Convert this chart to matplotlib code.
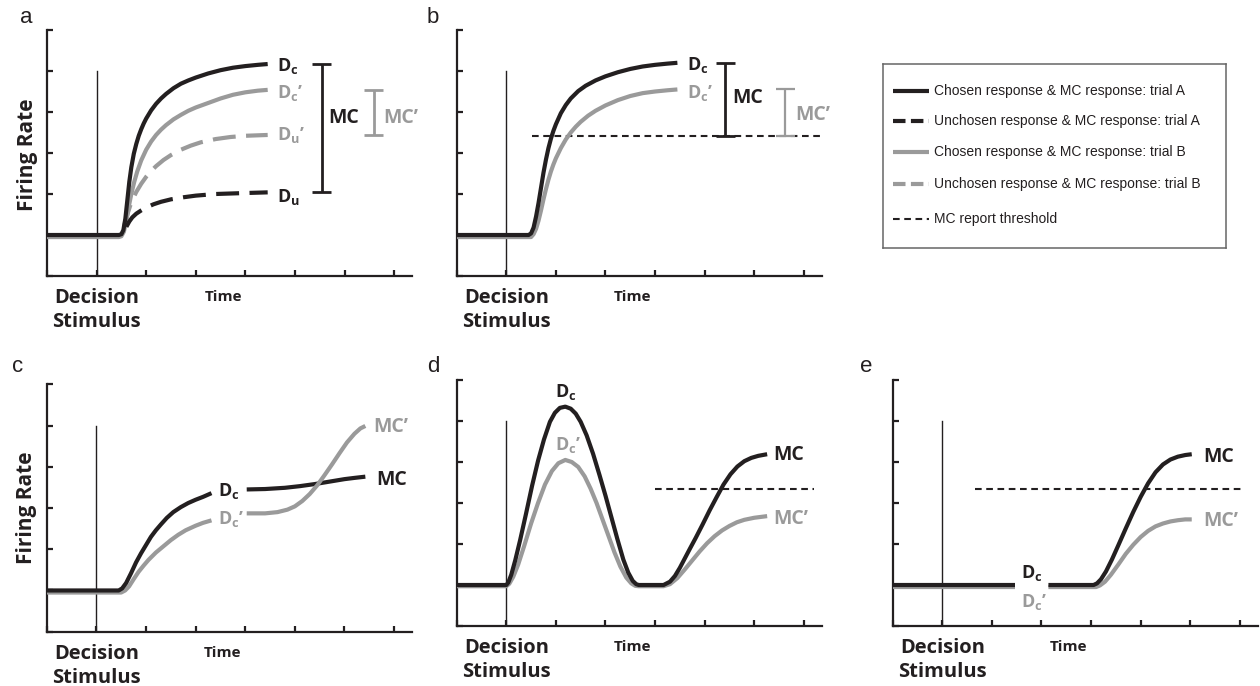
import matplotlib
matplotlib.use("Agg")
import matplotlib.pyplot as plt
from matplotlib import font_manager as fm

W, H = 1260, 686
BLACK = "#231f20"
GRAY = "#9a9a9a"

# ---------------- data ----------------
# Panel a
a_Dc_x = [0, 1.45, 1.5, 1.54, 1.58, 1.62, 1.66, 1.7, 1.75, 1.8, 1.85, 1.9, 1.95, 2.0, 2.1, 2.2,
          2.3, 2.4, 2.55, 2.7, 2.85, 3.0, 3.25, 3.5, 3.75, 4.0, 4.25, 4.45]
a_Dc_y = [1, 1.0, 1.02, 1.12, 1.4, 1.85, 2.3, 2.65, 2.98, 3.22, 3.42, 3.58, 3.72, 3.84, 4.04, 4.2,
          4.33, 4.44, 4.58, 4.69, 4.77, 4.84, 4.94, 5.02, 5.08, 5.12, 5.15, 5.17]
a_Dcp_x = [0, 1.45, 1.5, 1.55, 1.6, 1.65, 1.7, 1.76, 1.82, 1.9, 2.0, 2.1, 2.2, 2.3, 2.4, 2.55,
           2.7, 2.85, 3.0, 3.25, 3.5, 3.75, 4.0, 4.25, 4.45]
a_Dcp_y = [0.95, 0.95, 0.97, 1.08, 1.35, 1.7, 2.0, 2.3, 2.55, 2.82, 3.08, 3.28, 3.44, 3.57, 3.68,
           3.82, 3.93, 4.03, 4.11, 4.22, 4.33, 4.42, 4.48, 4.52, 4.54]
a_Dup_x = [1.55, 1.62, 1.7, 1.8, 1.9, 2.0, 2.1, 2.2, 2.35, 2.5, 2.7, 2.9, 3.1, 3.4, 3.7, 4.0, 4.45]
a_Dup_y = [1.2, 1.5, 1.8, 2.05, 2.25, 2.42, 2.56, 2.68, 2.83, 2.95, 3.08, 3.18, 3.26, 3.34, 3.39,
           3.42, 3.44]
a_Du_x = [1.6, 1.66, 1.72, 1.8, 1.9, 2.0, 2.15, 2.3, 2.5, 2.75, 3.0, 3.4, 3.9, 4.45]
a_Du_y = [1.2, 1.33, 1.43, 1.52, 1.6, 1.67, 1.75, 1.81, 1.87, 1.92, 1.96, 2.0, 2.02, 2.04]
a_MC = [2.05, 5.17]
a_MCp = [3.44, 4.54]

# Panel b
b_Dc_x = [0, 1.45, 1.5, 1.55, 1.6, 1.65, 1.7, 1.75, 1.8, 1.85, 1.9, 1.95, 2.0, 2.1, 2.2, 2.3,
          2.45, 2.6, 2.8, 3.0, 3.25, 3.5, 3.75, 4.0, 4.25, 4.45]
b_Dc_y = [1, 1.0, 1.04, 1.18, 1.45, 1.78, 2.15, 2.52, 2.84, 3.12, 3.35, 3.54, 3.7, 3.97, 4.17, 4.33,
          4.51, 4.64, 4.77, 4.87, 4.97, 5.05, 5.11, 5.15, 5.18, 5.2]
b_Dcp_x = [0, 1.5, 1.55, 1.6, 1.65, 1.7, 1.75, 1.8, 1.85, 1.9, 1.95, 2.0, 2.1, 2.2, 2.3, 2.4,
           2.5, 2.65, 2.8, 3.0, 3.25, 3.5, 3.75, 4.0, 4.25, 4.45]
b_Dcp_y = [0.95, 0.95, 1.02, 1.15, 1.35, 1.6, 1.87, 2.12, 2.35, 2.55, 2.72, 2.87, 3.12, 3.33, 3.5,
           3.64, 3.76, 3.91, 4.03, 4.16, 4.29, 4.39, 4.46, 4.5, 4.53, 4.55]
b_thresh = 3.42
b_thresh_x = [1.52, 7.34]
b_MC = [3.42, 5.2]
b_MCp = [3.42, 4.55]

# Panel c
c_Dc_x = [0, 1.45, 1.52, 1.6, 1.7, 1.8, 1.9, 2.0, 2.1, 2.2, 2.3, 2.42, 2.55, 2.7, 2.85, 3.0,
          3.15, 3.32]
c_Dc_y = [1, 1.0, 1.05, 1.18, 1.42, 1.68, 1.9, 2.1, 2.3, 2.46, 2.6, 2.76, 2.9, 3.02, 3.12, 3.2,
          3.27, 3.36]
c_Dcp_x = [0, 1.5, 1.58, 1.66, 1.75, 1.85, 1.95, 2.05, 2.2, 2.35, 2.5, 2.65, 2.8, 3.0, 3.15, 3.32]
c_Dcp_y = [0.95, 0.95, 1.0, 1.1, 1.27, 1.45, 1.6, 1.74, 1.92, 2.07, 2.22, 2.35, 2.46, 2.57, 2.64,
           2.7]
c_MC_x = [4.03, 4.4, 4.8, 5.1, 5.4, 5.7, 6.0, 6.2, 6.42]
c_MC_y = [3.45, 3.46, 3.49, 3.53, 3.58, 3.64, 3.7, 3.73, 3.76]
c_MCp_x = [4.03, 4.4, 4.65, 4.85, 5.0, 5.15, 5.3, 5.45, 5.6, 5.75, 5.9, 6.05, 6.2, 6.32, 6.42]
c_MCp_y = [2.87, 2.87, 2.9, 2.96, 3.04, 3.17, 3.34, 3.55, 3.8, 4.06, 4.33, 4.59, 4.8, 4.93, 4.99]

# Panel d
d_Dc_x = [0, 1.0, 1.04, 1.1, 1.18, 1.28, 1.4, 1.52, 1.64, 1.76, 1.88, 1.98, 2.08, 2.19, 2.3,
          2.4, 2.5, 2.62, 2.75, 2.88, 3.0, 3.12, 3.24, 3.36, 3.46, 3.55, 3.62, 3.67, 4.17, 4.3,
          4.4, 4.5, 4.6, 4.7, 4.82, 4.96, 5.1, 5.24, 5.38, 5.52, 5.66, 5.8, 5.94, 6.08, 6.26]
d_Dc_y = [1, 1.0, 1.06, 1.25, 1.6, 2.1, 2.75, 3.42, 4.03, 4.55, 4.98, 5.2, 5.32, 5.35, 5.3,
          5.18, 4.98, 4.65, 4.2, 3.68, 3.18, 2.65, 2.12, 1.62, 1.3, 1.1, 1.02, 1.0, 1.0, 1.08,
          1.22, 1.42, 1.65, 1.88, 2.15, 2.48, 2.82, 3.14, 3.45, 3.7, 3.89, 4.02, 4.1, 4.15, 4.19]
d_Dcp_x = [0, 1.0, 1.06, 1.14, 1.24, 1.36, 1.5, 1.64, 1.78, 1.92, 2.05, 2.19, 2.32, 2.45, 2.58,
           2.7, 2.82, 2.94, 3.06, 3.18, 3.3, 3.42, 3.52, 3.6, 3.67, 4.17, 4.3, 4.45, 4.6, 4.75,
           4.9, 5.05, 5.2, 5.35, 5.5, 5.65, 5.8, 6.0, 6.26]
d_Dcp_y = [0.97, 0.97, 1.03, 1.2, 1.5, 1.95, 2.5, 3.0, 3.45, 3.78, 3.97, 4.05, 4.0, 3.88, 3.65,
           3.35, 3.0, 2.6, 2.2, 1.8, 1.45, 1.18, 1.04, 0.98, 0.97, 0.97, 1.02, 1.17, 1.38, 1.6,
           1.82, 2.02, 2.19, 2.33, 2.44, 2.53, 2.59, 2.64, 2.68]
d_thresh = 3.35
d_thresh_x = [4.0, 7.2]

# Panel e
e_Dc1_x = [0, 2.47]
e_Dc1_y = [1, 1]
e_Dc2_x = [3.14, 4.05, 4.12, 4.2, 4.3, 4.42, 4.55, 4.7, 4.85, 5.0, 5.15, 5.3, 5.45, 5.6, 5.75,
           5.9, 6.03]
e_Dc2_y = [1, 1, 1.04, 1.14, 1.33, 1.62, 1.97, 2.38, 2.78, 3.15, 3.48, 3.75, 3.94, 4.06, 4.13,
           4.17, 4.19]
e_Dcp1_x = [0, 2.47]
e_Dcp1_y = [0.95, 0.95]
e_Dcp2_x = [3.14, 4.1, 4.18, 4.28, 4.4, 4.55, 4.7, 4.85, 5.0, 5.15, 5.3, 5.45, 5.6, 5.75, 5.9,
            6.03]
e_Dcp2_y = [0.95, 0.95, 0.99, 1.08, 1.25, 1.5, 1.76, 1.98, 2.17, 2.32, 2.43, 2.5, 2.55, 2.58,
            2.6, 2.6]
e_thresh = 3.35
e_thresh_x = [1.66, 7.06]

legend_labels = [
    "Chosen response & MC response: trial A",
    "Unchosen response & MC response: trial A",
    "Chosen response & MC response: trial B",
    "Unchosen response & MC response: trial B",
    "MC report threshold",
]

# ---------------- fonts ----------------
names = {f.name for f in fm.fontManager.ttflist}
BOLD_FONT = "Open Sans" if "Open Sans" in names else "DejaVu Sans"
plt.rcParams["font.family"] = [BOLD_FONT, "DejaVu Sans"]
plt.rcParams["mathtext.fontset"] = "custom"
plt.rcParams["mathtext.bf"] = BOLD_FONT + ":bold"
plt.rcParams["mathtext.rm"] = BOLD_FONT
if "Liberation Sans Narrow" in names:
    LEG_FONT, LEG_SIZE = "Liberation Sans Narrow", 12.2
else:
    LEG_FONT, LEG_SIZE = "Liberation Sans", 10
LETTER_FONT = "Liberation Sans"

LW = 3.0
DASH = (5.5, 2.5)
TH_DASH = (3.2, 2.2)

fig = plt.figure(figsize=(W / 100, H / 100), dpi=100)


def px_axes(left, top, right, bottom):
    return fig.add_axes([left / W, 1 - bottom / H, (right - left) / W, (bottom - top) / H])


def style(ax, firing=False, fr_y=2.95):
    ax.set_xlim(0, 7.36)
    ax.set_ylim(0, 6)
    for s in ["top", "right"]:
        ax.spines[s].set_visible(False)
    for s in ["left", "bottom"]:
        ax.spines[s].set_linewidth(1.6)
        ax.spines[s].set_color(BLACK)
    ax.set_xticks(range(8))
    ax.set_yticks(range(7))
    ax.tick_params(direction="in", length=4, width=1.6, colors=BLACK,
                   labelbottom=False, labelleft=False)
    ax.plot([1, 1], [0, 5], color=BLACK, lw=1.0, zorder=1)
    kw = dict(textcoords="offset points", ha="center", va="center",
              fontweight="bold", color=BLACK, annotation_clip=False)
    ax.annotate("Decision", xy=(1, 0), xytext=(0, -22 * 0.72), fontsize=14.5, **kw)
    ax.annotate("Stimulus", xy=(1, 0), xytext=(0, -46 * 0.72), fontsize=14.5, **kw)
    ax.annotate("Time", xy=(3.55, 0), xytext=(0, -21 * 0.72), fontsize=11, **kw)
    if firing:
        ax.annotate("Firing Rate", xy=(0, fr_y), xytext=(-20 * 0.72, 0), fontsize=15,
                    rotation=90, **kw)


def curve(ax, x, y, color, dashed=False, z=3):
    ln, = ax.plot(x, y, color=color, lw=LW, solid_capstyle="butt",
                  solid_joinstyle="round", dash_capstyle="butt", dash_joinstyle="round",
                  zorder=z)
    if dashed:
        ln.set_dashes(DASH)
    return ln


def thresh(ax, xs, y):
    ln, = ax.plot(xs, [y, y], color=BLACK, lw=1.5, zorder=2)
    ln.set_dashes(TH_DASH)


def lab(ax, x, y, s, color, size=13):
    ax.text(x, y, s, color=color, fontsize=size, fontweight="bold", ha="left",
            va="baseline", clip_on=False)


DC = r"D$_{\mathbf{c}}$"
DCP = r"D$_{\mathbf{c}}$’"
DU = r"D$_{\mathbf{u}}$"
DUP = r"D$_{\mathbf{u}}$’"


def mcbar(ax, x, lo, hi, color, cap, lw):
    ax.plot([x, x], [lo, hi], color=color, lw=lw, solid_capstyle="butt")
    ax.plot([x - cap, x + cap], [lo, lo], color=color, lw=lw, solid_capstyle="butt")
    ax.plot([x - cap, x + cap], [hi, hi], color=color, lw=lw, solid_capstyle="butt")


# ---------------- panel a ----------------
ax = px_axes(47, 30, 412, 276)
style(ax, firing=True, fr_y=2.95)
curve(ax, a_Dcp_x, a_Dcp_y, GRAY)
curve(ax, a_Dup_x, a_Dup_y, GRAY, dashed=True)
curve(ax, a_Du_x, a_Du_y, BLACK, dashed=True)
curve(ax, a_Dc_x, a_Dc_y, BLACK, z=4)
lab(ax, 4.63, 5.0, DC, BLACK)
lab(ax, 4.63, 4.33, DCP, GRAY)
lab(ax, 4.63, 3.32, DUP, GRAY)
lab(ax, 4.63, 1.81, DU, BLACK)
mcbar(ax, 5.54, a_MC[0], a_MC[1], BLACK, 0.19, 2.0)
mcbar(ax, 6.59, a_MCp[0], a_MCp[1], GRAY, 0.19, 2.0)
lab(ax, 5.67, 3.72, "MC", BLACK, 14)
lab(ax, 6.79, 3.72, "MC’", GRAY, 14)

# ---------------- panel b ----------------
ax = px_axes(456.7, 30, 821.7, 276)
style(ax)
thresh(ax, b_thresh_x, b_thresh)
curve(ax, b_Dcp_x, b_Dcp_y, GRAY)
curve(ax, b_Dc_x, b_Dc_y, BLACK, z=4)
lab(ax, 4.65, 5.02, DC, BLACK)
lab(ax, 4.65, 4.35, DCP, GRAY)
mcbar(ax, 5.42, b_MC[0], b_MC[1], BLACK, 0.2, 2.0)
mcbar(ax, 6.63, b_MCp[0], b_MCp[1], GRAY, 0.19, 1.6)
lab(ax, 5.56, 4.21, "MC", BLACK, 14)
lab(ax, 6.83, 3.8, "MC’", GRAY, 14)

# ---------------- panel c ----------------
ax = px_axes(46.7, 384.3, 412, 631.7)
style(ax, firing=True, fr_y=3.0)
curve(ax, c_Dcp_x, c_Dcp_y, GRAY)
curve(ax, c_Dc_x, c_Dc_y, BLACK, z=4)
curve(ax, c_MC_x, c_MC_y, BLACK, z=4)
curve(ax, c_MCp_x, c_MCp_y, GRAY, z=5)
lab(ax, 3.46, 3.28, DC, BLACK)
lab(ax, 3.46, 2.6, DCP, GRAY)
lab(ax, 6.64, 3.56, "MC", BLACK, 14)
lab(ax, 6.58, 4.85, "MC’", GRAY, 14)

# ---------------- panel d ----------------
ax = px_axes(456.7, 380, 821.7, 626)
style(ax)
thresh(ax, d_thresh_x, d_thresh)
curve(ax, d_Dcp_x, d_Dcp_y, GRAY)
curve(ax, d_Dc_x, d_Dc_y, BLACK, z=4)
lab(ax, 1.99, 5.59, DC, BLACK)
lab(ax, 1.99, 4.29, DCP, GRAY)
lab(ax, 6.38, 4.05, "MC", BLACK, 14)
lab(ax, 6.38, 2.48, "MC’", GRAY, 14)

# ---------------- panel e ----------------
ax = px_axes(892.7, 380, 1257.7, 626)
style(ax)
thresh(ax, e_thresh_x, e_thresh)
curve(ax, e_Dcp1_x, e_Dcp1_y, GRAY)
curve(ax, e_Dcp2_x, e_Dcp2_y, GRAY)
curve(ax, e_Dc1_x, e_Dc1_y, BLACK, z=4)
curve(ax, e_Dc2_x, e_Dc2_y, BLACK, z=4)
lab(ax, 2.59, 1.16, DC, BLACK)
lab(ax, 2.59, 0.47, DCP, GRAY)
lab(ax, 6.26, 4.01, "MC", BLACK, 14)
lab(ax, 6.26, 2.44, "MC’", GRAY, 14)

# ---------------- legend box ----------------
lx0, ly0, lx1, ly1 = 882.7, 64, 1226, 248.3
lax = px_axes(lx0, ly0, lx1, ly1)
lax.set_xlim(0, lx1 - lx0)
lax.set_ylim(ly1 - ly0, 0)
lax.set_xticks([])
lax.set_yticks([])
for s in lax.spines.values():
    s.set_color("#666666")
    s.set_linewidth(1.1)
row_y = [26.7, 57, 88.3, 120, 155]
styles = [(BLACK, None, LW), (BLACK, (3.0, 1.3), LW), (GRAY, None, LW), (GRAY, (3.0, 1.3), LW),
          (BLACK, TH_DASH, 1.5)]
for yy, (col, dsh, lw), text in zip(row_y, styles, legend_labels):
    ln, = lax.plot([10, 46.6], [yy, yy], color=col, lw=lw, solid_capstyle="butt",
                   dash_capstyle="butt")
    if dsh:
        ln.set_dashes(dsh)
    lax.text(51.6, yy, text, fontsize=LEG_SIZE, family=[LEG_FONT, "DejaVu Sans"],
             ha="left", va="center", color=BLACK)

# ---------------- panel letters ----------------
for s, x, y in [("a", 20, 23), ("b", 427, 23), ("c", 12, 372), ("d", 427, 372), ("e", 860, 372)]:
    fig.text(x / W, 1 - y / H, s, fontsize=16, family=[LETTER_FONT, "DejaVu Sans"],
             ha="left", va="baseline", color=BLACK)

fig.savefig("out.png", dpi=100)
